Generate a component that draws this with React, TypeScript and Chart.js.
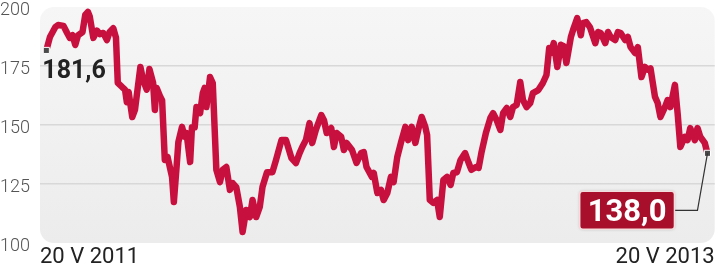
import React, { useEffect, useRef } from "react";
import { Chart, registerables } from "chart.js";

Chart.register(...registerables);

// days since 20 V 2011
const dayOffsets: number[] = [
  0, 4, 10, 13, 19, 23, 26, 29, 32, 35, 40, 43, 46, 48, 52, 56, 59, 63, 67, 70,
  74, 77, 79, 84, 87, 89, 91, 95, 98, 104, 107, 111, 114, 118, 120, 122, 126, 128, 131, 134,
  139, 141, 144, 146, 150, 153, 155, 159, 161, 164, 166, 170, 173, 175, 177, 181, 184, 188, 192, 195,
  199, 203, 206, 210, 214, 217, 221, 225, 228, 232, 236, 239, 244, 250, 254, 260, 265, 271, 276, 280,
  283, 287, 291, 294, 298, 304, 307, 310, 315, 318, 321, 326, 329, 332, 338, 343, 348, 351, 354, 360,
  362, 366, 370, 373, 377, 381, 384, 388, 392, 397, 400, 404, 408, 412, 415, 419, 421, 424, 428, 432,
  435, 439, 443, 447, 450, 454, 458, 463, 467, 470, 475, 478, 481, 486, 491, 494, 498, 502, 505, 509,
  513, 516, 520, 524, 527, 531, 535, 538, 544, 549, 553, 556, 558, 561, 565, 569, 572, 575, 580, 583,
  587, 591, 593, 597, 601, 607, 610, 613, 618, 621, 624, 629, 632, 635, 640, 643, 646, 651, 654, 658,
  662, 665, 668, 673, 676, 679, 684, 687, 690, 695, 698, 701, 706, 709, 712, 717, 720, 723, 728, 731,
];

const prices: number[] = [
  181.6, 187.3, 191.5, 192.4, 192.0, 189.0, 186.9, 188.0, 183.9, 188.0, 189.4, 196.6, 197.9, 196.0, 186.9, 190.0, 188.5, 189.0, 186.0, 189.4,
  191.0, 187.0, 167.8, 166.0, 165.0, 159.7, 164.0, 153.4, 156.4, 174.6, 169.0, 165.0, 173.7, 168.0, 156.4, 165.7, 161.9, 160.5, 135.2, 136.5,
  128.0, 117.4, 132.2, 142.8, 149.2, 145.0, 146.6, 134.3, 149.0, 149.0, 157.6, 155.0, 163.5, 165.7, 157.6, 170.3, 167.8, 131.0, 125.8, 131.0,
  132.2, 122.5, 125.4, 123.7, 115.3, 104.7, 114.0, 111.0, 118.2, 111.0, 115.3, 123.7, 130.0, 130.0, 135.2, 143.6, 143.6, 136.0, 133.9, 138.1,
  140.7, 143.6, 150.8, 142.4, 147.9, 154.2, 152.0, 146.6, 148.7, 140.7, 146.6, 145.0, 139.4, 142.4, 139.4, 133.9, 138.1, 138.5, 132.2, 128.0,
  129.7, 121.2, 122.5, 118.2, 121.2, 128.0, 125.8, 136.4, 142.4, 149.2, 143.6, 149.2, 142.4, 149.2, 153.4, 149.2, 145.8, 118.2, 117.0, 118.2,
  111.0, 126.7, 128.0, 124.6, 129.7, 130.0, 135.2, 138.1, 133.9, 131.0, 132.2, 131.8, 138.1, 146.6, 153.0, 155.0, 152.0, 147.9, 155.0, 157.2,
  153.4, 157.6, 158.5, 168.2, 160.6, 157.6, 159.3, 163.5, 164.8, 167.8, 171.2, 182.6, 180.5, 184.7, 174.6, 184.0, 183.4, 176.3, 187.3, 191.0,
  195.3, 188.0, 193.2, 193.6, 191.5, 184.7, 189.4, 189.0, 184.7, 189.4, 187.3, 186.0, 189.4, 189.0, 186.0, 187.3, 183.0, 180.5, 183.0, 170.3,
  174.6, 173.4, 174.0, 161.9, 159.3, 153.4, 157.6, 160.6, 157.6, 167.0, 155.0, 140.7, 145.0, 143.6, 148.7, 143.6, 148.7, 145.0, 142.4, 138.0,
];

const xTickLabels: string[] = ["20 V 2011", "20 V 2013"];
const yTicks: number[] = [100, 125, 150, 175, 200];
const firstLabel = "181,6";
const lastLabel = "138,0";

const LINE = "#c8103f";
const BOX = "#a80f2b";

const fmt = (v: number) => v.toFixed(1).replace(".", ",");

const panelPlugin = {
  id: "panel",
  beforeDraw(chart: any) {
    const { ctx, chartArea: a } = chart;
    ctx.save();
    const g = ctx.createLinearGradient(0, a.top, 0, a.bottom);
    g.addColorStop(0, "#f6f6f6");
    g.addColorStop(1, "#ececed");
    ctx.fillStyle = g;
    ctx.beginPath();
    (ctx as any).roundRect(a.left, a.top, a.right - a.left, a.bottom - a.top, 14);
    ctx.fill();
    ctx.restore();
  },
};

const annotationPlugin = {
  id: "annot",
  afterDatasetsDraw(chart: any) {
    const { ctx } = chart;
    const meta = chart.getDatasetMeta(0);
    const p0 = meta.data[0];
    const pN = meta.data[meta.data.length - 1];
    ctx.save();
    // first value label
    ctx.font = "bold 25px Roboto";
    ctx.fillStyle = "#222222";
    ctx.textAlign = "left";
    ctx.textBaseline = "alphabetic";
    ctx.fillText(firstLabel || fmt(prices[0]), p0.x - 4, p0.y + 28);

    // last value box
    ctx.font = "bold 31px Roboto";
    const txt = lastLabel || fmt(prices[prices.length - 1]);
    const tw = ctx.measureText(txt).width;
    const bw = tw + 16;
    const bh = 38;
    const right = pN.x - 33;
    const cy = pN.y + 57;
    const left = right - bw;
    // connector
    ctx.strokeStyle = "#333333";
    ctx.lineWidth = 1.2;
    ctx.beginPath();
    ctx.moveTo(right, cy);
    ctx.lineTo(pN.x - 10, cy);
    ctx.lineTo(pN.x, pN.y);
    ctx.stroke();
    // box
    ctx.shadowColor = "rgba(0,0,0,0.25)";
    ctx.shadowBlur = 3;
    ctx.fillStyle = BOX;
    ctx.beginPath();
    (ctx as any).roundRect(left, cy - bh / 2, bw, bh, 3);
    ctx.fill();
    ctx.shadowColor = "transparent";
    ctx.strokeStyle = "#f3dede";
    ctx.lineWidth = 1.5;
    ctx.stroke();
    ctx.fillStyle = "#ffffff";
    ctx.textAlign = "center";
    ctx.fillText(txt, left + bw / 2, cy + 11);
    ctx.restore();
  },
};

export default function App() {
  const ref = useRef<HTMLCanvasElement | null>(null);

  useEffect(() => {
    document.body.style.margin = "0";
    if (!ref.current) return;
    const n = prices.length;
    const chart = new Chart(ref.current, {
      type: "line",
      data: {
        datasets: [
          {
            data: dayOffsets.map((d, i) => ({ x: d, y: prices[i] })),
            borderColor: LINE,
            borderWidth: 6.5,
            borderJoinStyle: "round",
            borderCapStyle: "round",
            tension: 0,
            pointStyle: "rect",
            pointRadius: (c: any) => (c.dataIndex === 0 || c.dataIndex === n - 1 ? 4.3 : 0),
            pointBackgroundColor: "#4a4a4a",
            pointBorderColor: "#ffffff",
            pointBorderWidth: 1,
            pointHoverRadius: 0,
          },
        ],
      },
      options: {
        responsive: false,
        animation: false,
        events: [],
        layout: { padding: { top: 7, right: 3, left: 0, bottom: 0 } },
        plugins: { legend: { display: false }, tooltip: { enabled: false } },
        scales: {
          x: {
            type: "linear",
            min: -7,
            max: 739,
            afterBuildTicks: (s: any) => {
              s.ticks = [{ value: s.min }, { value: s.max }];
            },
            afterFit: (s: any) => {
              s.height = 27;
            },
            grid: { display: false, drawTicks: false },
            border: { display: false },
            ticks: {
              align: "inner",
              maxRotation: 0,
              autoSkip: false,
              padding: 1,
              color: "#222222",
              font: { family: "Roboto", size: 22 },
              callback: (_v: any, i: number) => xTickLabels[i],
            },
          },
          y: {
            min: 100,
            max: 200,
            afterBuildTicks: (s: any) => {
              s.ticks = yTicks.map((v) => ({ value: v }));
            },
            afterFit: (s: any) => {
              s.width = 40;
            },
            grid: {
              drawTicks: false,
              lineWidth: 1.5,
              color: (c: any) =>
                c.tick && (c.tick.value === 100 || c.tick.value === 200) ? "rgba(0,0,0,0)" : "#d8d8d8",
            },
            border: { display: false },
            ticks: {
              crossAlign: "far",
              padding: 0,
              labelOffset: 3,
              color: "#555555",
              font: { family: "Roboto", size: 18, weight: "300", lineHeight: 0.6 },
            },
          },
        },
      },
      plugins: [panelPlugin, annotationPlugin],
    } as any);
    return () => chart.destroy();
  }, []);

  return (
    <div style={{ width: 720, height: 270, position: "relative" }}>
      <canvas ref={ref} width={720} height={270} style={{ width: 720, height: 270, display: "block" }} />
    </div>
  );
}
